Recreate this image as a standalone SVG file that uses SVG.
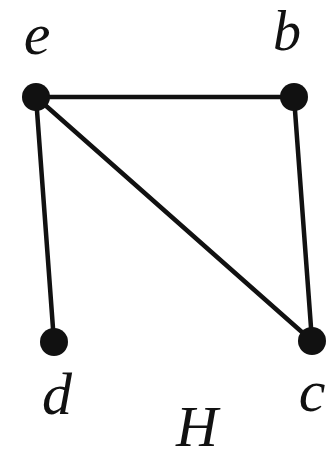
<svg xmlns="http://www.w3.org/2000/svg" width="336" height="461" viewBox="0 0 336 461">
<style>
.edge{stroke:#111;stroke-width:4.5;stroke-linecap:round;fill:none}
.node{fill:#111}
.lbl{font-family:'Liberation Serif','DejaVu Serif','Times New Roman',serif;font-style:italic;font-size:60px;fill:#111;text-anchor:middle}
</style>
<rect width="336" height="461" fill="#fff"/>
<g id="edges">
<line class="edge" x1="36" y1="97" x2="294" y2="97"/>
<line class="edge" x1="36" y1="97" x2="54" y2="342"/>
<line class="edge" x1="36" y1="97" x2="312" y2="341"/>
<line class="edge" x1="294" y1="97" x2="312" y2="341"/>
</g>
<g id="node-e"><circle class="node" cx="36" cy="97" r="14"/><text class="lbl" x="37" y="54">e</text></g>
<g id="node-b"><circle class="node" cx="294" cy="97" r="14"/><text class="lbl" x="287" y="50" style="font-size:56px">b</text></g>
<g id="node-d"><circle class="node" cx="54" cy="342" r="14"/><text class="lbl" x="57" y="414">d</text></g>
<g id="node-c"><circle class="node" cx="312" cy="341" r="14"/><text class="lbl" x="312" y="411">c</text></g>
<text id="title" class="lbl" x="197" y="446" style="font-size:58px">H</text>
</svg>
